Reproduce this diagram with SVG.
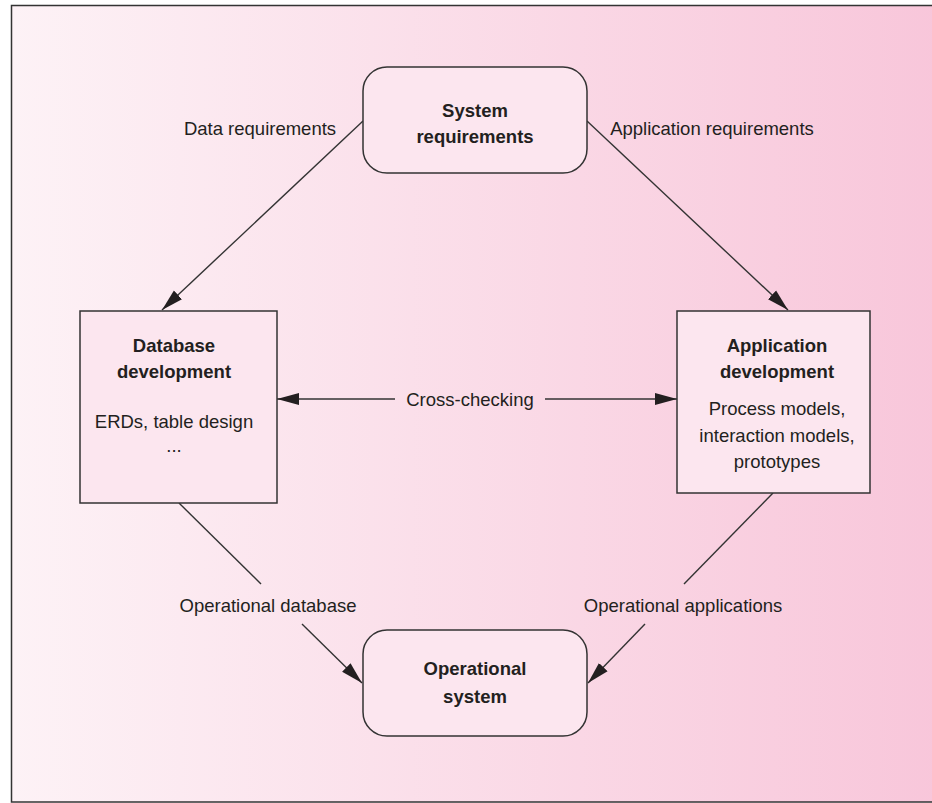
<svg xmlns="http://www.w3.org/2000/svg" width="932" height="803" viewBox="0 0 932 803">
<defs>
<linearGradient id="bg" x1="0" y1="0" x2="1" y2="0">
<stop offset="0" stop-color="#fdf2f6"/>
<stop offset="1" stop-color="#f8c6da"/>
</linearGradient>
<marker id="ah" markerUnits="userSpaceOnUse" markerWidth="24" markerHeight="14" refX="22" refY="7" orient="auto">
<path d="M0,1 L22,7 L0,13 z" fill="#231f20"/>
</marker>
<style>
.node{fill:#fce6ef;stroke:#333;stroke-width:1.5}
.t{font-family:"Liberation Sans",Arial,sans-serif;fill:#231f20;text-anchor:middle}
.b{font-size:18.5px;font-weight:bold}
.r{font-size:18.5px}
.c{stroke:#333;stroke-width:1.4;fill:none}
</style>
</defs>
<rect x="0" y="0" width="932" height="803" fill="#fff"/>
<rect x="11.5" y="5.5" width="930" height="796.5" fill="url(#bg)" stroke="#333" stroke-width="1.5"/>
<g id="connectors">
<line class="c" x1="363" y1="121" x2="162" y2="310" marker-end="url(#ah)"/>
<line class="c" x1="587" y1="121" x2="788" y2="310" marker-end="url(#ah)"/>
<line class="c" x1="179" y1="503" x2="261" y2="584"/>
<line class="c" x1="302" y1="624" x2="362" y2="683" marker-end="url(#ah)"/>
<line class="c" x1="773" y1="493" x2="684" y2="584"/>
<line class="c" x1="645" y1="624" x2="588" y2="683" marker-end="url(#ah)"/>
<line class="c" x1="395" y1="399" x2="277" y2="399" marker-end="url(#ah)"/>
<line class="c" x1="545" y1="399" x2="677" y2="399" marker-end="url(#ah)"/>
<text class="t r" x="260" y="135">Data requirements</text>
<text class="t r" x="712" y="135">Application requirements</text>
<text class="t r" x="470" y="406">Cross-checking</text>
<text class="t r" x="268" y="612">Operational database</text>
<text class="t r" x="683" y="612">Operational applications</text>
</g>
<g id="system-requirements">
<rect class="node" x="363" y="67" width="224" height="106" rx="24"/>
<text class="t b" x="475" y="117">System</text>
<text class="t b" x="475" y="143">requirements</text>
</g>
<g id="database-development">
<rect class="node" x="80" y="311" width="197" height="192"/>
<text class="t b" x="174" y="352">Database</text>
<text class="t b" x="174" y="378">development</text>
<text class="t r" x="174" y="428">ERDs, table design</text>
<text class="t r" x="174" y="452">...</text>
</g>
<g id="application-development">
<rect class="node" x="677" y="311" width="193" height="182"/>
<text class="t b" x="777" y="352">Application</text>
<text class="t b" x="777" y="378">development</text>
<text class="t r" x="777" y="415">Process models,</text>
<text class="t r" x="777" y="442">interaction models,</text>
<text class="t r" x="777" y="468">prototypes</text>
</g>
<g id="operational-system">
<rect class="node" x="363" y="630" width="224" height="106" rx="24"/>
<text class="t b" x="475" y="675">Operational</text>
<text class="t b" x="475" y="703">system</text>
</g>
</svg>
